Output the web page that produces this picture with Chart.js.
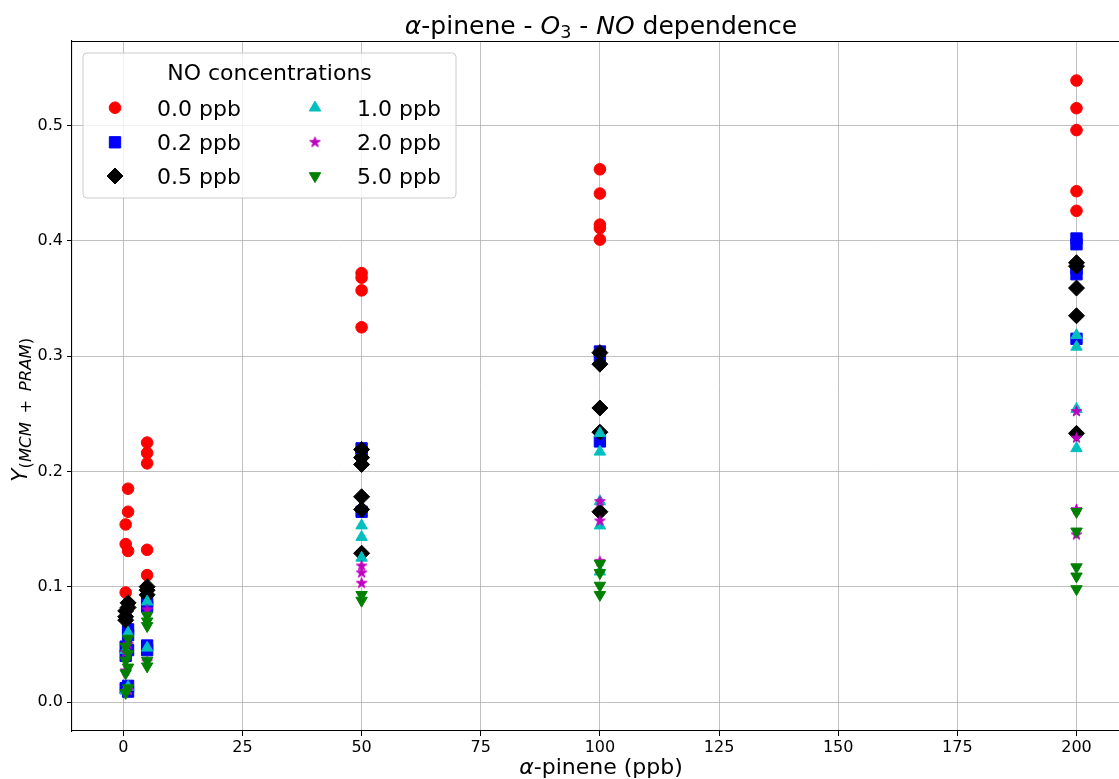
<!DOCTYPE html>
<html>
<head>
<meta charset="utf-8">
<script src="https://cdn.jsdelivr.net/npm/chart.js@4.4.1/dist/chart.umd.min.js"></script>
<style>
html,body{margin:0;padding:0;overflow:hidden;background:#fff;width:1119px;height:779px}
#wrap{position:relative;width:1150px;height:779px}
canvas{display:block}
</style>
</head>
<body>
<div id="wrap"><canvas id="c" width="1150" height="779"></canvas></div>
<script>
// ---- tick labels ----
const xTicks = [0, 25, 50, 75, 100, 125, 150, 175, 200];
const yTicks = [0.0, 0.1, 0.2, 0.3, 0.4, 0.5];

// ---- series (NO concentrations) ----
const seriesLabels = ['0.0 ppb', '0.2 ppb', '0.5 ppb', '1.0 ppb', '2.0 ppb', '5.0 ppb'];

// alpha-pinene (ppb) and yield values per NO level
const x_NO00 = [0.5,0.5,0.5, 1,1,1, 5,5,5,5,5, 50,50,50,50, 100,100,100,100,100, 200,200,200,200,200];
const y_NO00 = [0.154,0.137,0.095, 0.185,0.165,0.131, 0.225,0.216,0.207,0.132,0.110, 0.372,0.368,0.357,0.325, 0.462,0.441,0.414,0.411,0.401, 0.539,0.515,0.496,0.443,0.426];

const x_NO02 = [0.5,0.5,0.5, 1,1,1,1,1, 5,5,5,5, 50,50,50, 100,100,100, 200,200,200,200,200];
const y_NO02 = [0.048,0.040,0.012, 0.063,0.058,0.045,0.014,0.009, 0.088,0.083,0.049,0.045, 0.220,0.215,0.165, 0.304,0.300,0.226, 0.402,0.397,0.376,0.371,0.315];

const x_NO05 = [0.5,0.5,0.5, 1,1, 5,5,5, 50,50,50,50,50,50, 100,100,100,100,100, 200,200,200,200,200];
const y_NO05 = [0.079,0.074,0.071, 0.086,0.082, 0.100,0.097,0.093, 0.219,0.212,0.206,0.178,0.167,0.129, 0.303,0.293,0.255,0.234,0.165, 0.381,0.378,0.359,0.335,0.233];

const x_NO10 = [0.5,0.5, 1,1, 5,5, 50,50,50, 100,100,100,100,100, 200,200,200,200];
const y_NO10 = [0.045,0.010, 0.060,0.013, 0.087,0.047, 0.153,0.143,0.125, 0.233,0.217,0.174,0.153,0.113, 0.318,0.308,0.254,0.220];

const x_NO20 = [0.5,0.5, 1,1, 5,5, 50,50,50, 100,100,100, 200,200,200,200];
const y_NO20 = [0.043,0.027, 0.050,0.010, 0.080,0.035, 0.118,0.112,0.103, 0.174,0.157,0.122, 0.252,0.229,0.167,0.145];

const x_NO50 = [0.5,0.5,0.5,0.5, 1,1,1,1, 5,5,5,5,5, 50,50, 100,100,100,100, 200,200,200,200,200];
const y_NO50 = [0.048,0.036,0.025,0.008, 0.055,0.042,0.030,0.012, 0.075,0.070,0.066,0.036,0.031, 0.093,0.088, 0.120,0.112,0.101,0.093, 0.165,0.148,0.117,0.109,0.098];

const xSeries = [x_NO00, x_NO02, x_NO05, x_NO10, x_NO20, x_NO50];
const ySeries = [y_NO00, y_NO02, y_NO05, y_NO10, y_NO20, y_NO50];

// ---- axis framing (axis range is set so the frame matches the original figure) ----
const X_LEFT_PX = 72, X0_PX = 123.3, X200_PX = 1076.5, X_AXES_RIGHT_PX = 1130;
const Y_TOP_PX = 41, Y0_PX = 702, Y05_PX = 125.5;

// ---- styles ----
const FONT = "'DejaVu Sans', sans-serif";
function starCanvas(color, R) {
  const s = Math.ceil(2 * R + 3);
  const c = document.createElement('canvas');
  c.width = s; c.height = s;
  const g = c.getContext('2d');
  g.fillStyle = color; g.strokeStyle = color; g.lineWidth = 1; g.lineJoin = 'miter';
  g.beginPath();
  for (let i = 0; i < 10; i++) {
    const r = i % 2 ? R * 0.38 : R;
    const a = -Math.PI / 2 + i * Math.PI / 5;
    g.lineTo(s / 2 + r * Math.cos(a), s / 2 + r * Math.sin(a));
  }
  g.closePath(); g.fill(); g.stroke();
  return c;
}
const styles = [
  {color: '#ff0000', pointStyle: 'circle', radius: 5.8, rotation: 0},
  {color: '#0000ff', pointStyle: 'rect', radius: 8.0, rotation: 0},
  {color: '#000000', pointStyle: 'rectRot', radius: 8.0, rotation: 0},
  {color: '#00bfbf', pointStyle: 'triangle', radius: 6.6, rotation: 0},
  {color: '#bf00bf', pointStyle: starCanvas('#bf00bf', 5.6), radius: 6, rotation: 0},
  {color: '#008000', pointStyle: 'triangle', radius: 6.6, rotation: 180}
];

const datasets = seriesLabels.map((lab, k) => ({
  label: lab,
  data: xSeries[k].map((x, i) => ({x: x, y: ySeries[k][i]})),
  backgroundColor: styles[k].color,
  borderColor: styles[k].color,
  borderWidth: 1,
  pointStyle: styles[k].pointStyle,
  pointRadius: styles[k].radius,
  pointHoverRadius: styles[k].radius,
  rotation: styles[k].rotation,
  order: seriesLabels.length - k,
  showLine: false
}));

function drawRich(ctx, segs, x, y, align) {
  let total = 0;
  segs.forEach(s => {
    ctx.font = (s.it ? 'italic ' : '') + s.size + 'px ' + FONT;
    s.w = ctx.measureText(s.t).width;
    total += s.w;
  });
  let cx = align === 'center' ? x - total / 2 : x;
  ctx.textAlign = 'left';
  ctx.textBaseline = 'alphabetic';
  segs.forEach(s => {
    ctx.font = (s.it ? 'italic ' : '') + s.size + 'px ' + FONT;
    ctx.fillText(s.t, cx, y + (s.dy || 0));
    cx += s.w;
  });
  return total;
}

function drawMarker(ctx, st, x, y) {
  ctx.save();
  ctx.fillStyle = st.color; ctx.strokeStyle = st.color; ctx.lineWidth = 1;
  Chart.helpers.drawPoint(ctx, {pointStyle: st.pointStyle, radius: st.radius, rotation: st.rotation, borderWidth: 1}, x, y);
  ctx.restore();
}

const frameFit = {
  id: 'frameFit',
  afterLayout(chart) {
    const a = chart.chartArea;
    const xs = chart.scales.x, ys = chart.scales.y;
    const kx = (X200_PX - X0_PX) / 200;
    xs.min = (a.left - X0_PX) / kx;
    xs.max = (a.right - X0_PX) / kx;
    xs.configure();
    const ky = (Y0_PX - Y05_PX) / 0.5;
    ys.min = (Y0_PX - a.bottom) / ky;
    ys.max = (Y0_PX - a.top) / ky;
    ys.configure();
  }
};

const decor = {
  id: 'decor',
  afterDraw(chart) {
    const ctx = chart.ctx;
    const a = chart.chartArea;
    ctx.save();
    // top & right spines
    ctx.strokeStyle = '#000'; ctx.lineWidth = 1.1;
    ctx.beginPath();
    ctx.moveTo(a.left, a.top + 0.5); ctx.lineTo(a.right, a.top + 0.5);
    ctx.moveTo(a.right - 0.5, a.top); ctx.lineTo(a.right - 0.5, a.bottom);
    ctx.stroke();
    ctx.fillStyle = '#000';
    // title, centred on the (original) axes
    const cx = (a.left + X_AXES_RIGHT_PX) / 2;
    drawRich(ctx, [
      {t: 'α', it: true, size: 25},
      {t: '-pinene - ', size: 25},
      {t: 'O', it: true, size: 25},
      {t: '3', size: 17.5, dy: 4},
      {t: ' - ', size: 25},
      {t: 'NO', it: true, size: 25},
      {t: ' dependence', size: 25}
    ], cx, 33.5, 'center');
    // x label
    drawRich(ctx, [
      {t: 'α', it: true, size: 22},
      {t: '-pinene (ppb)', size: 22}
    ], cx, 774, 'center');
    // y label (rotated)
    ctx.save();
    ctx.translate(27, 482);
    ctx.rotate(-Math.PI / 2);
    drawRich(ctx, [
      {t: 'Y', it: true, size: 22},
      {t: '(', size: 16.5, dy: 4},
      {t: 'MCM', it: true, size: 16.5, dy: 4},
      {t: ' \u2009+\u2009 ', size: 16.5, dy: 4},
      {t: 'PRAM', it: true, size: 16.5, dy: 4},
      {t: ')', size: 16.5, dy: 4}
    ], 0, 0, 'left');
    ctx.restore();
    // legend
    const lx = 83, ly = 53, lw = 373, lh = 145, r = 4;
    ctx.beginPath();
    ctx.moveTo(lx + r, ly);
    ctx.arcTo(lx + lw, ly, lx + lw, ly + lh, r);
    ctx.arcTo(lx + lw, ly + lh, lx, ly + lh, r);
    ctx.arcTo(lx, ly + lh, lx, ly, r);
    ctx.arcTo(lx, ly, lx + lw, ly, r);
    ctx.closePath();
    ctx.fillStyle = 'rgba(255,255,255,0.8)';
    ctx.fill();
    ctx.strokeStyle = '#cccccc'; ctx.lineWidth = 1;
    ctx.stroke();
    ctx.fillStyle = '#000';
    ctx.font = '22px ' + FONT;
    ctx.textAlign = 'center'; ctx.textBaseline = 'alphabetic';
    ctx.fillText('NO concentrations', lx + lw / 2, 80);
    const rowY = [107.7, 142.3, 176];
    const colM = [115, 315], colT = [157, 357];
    seriesLabels.forEach((lab, k) => {
      const col = Math.floor(k / 3), row = k % 3;
      drawMarker(ctx, styles[k], colM[col], rowY[row]);
      ctx.fillStyle = '#000';
      ctx.font = '22px ' + FONT;
      ctx.textAlign = 'left';
      ctx.fillText(lab, colT[col], rowY[row] + 8);
    });
    ctx.restore();
  }
};

new Chart(document.getElementById('c'), {
  type: 'scatter',
  data: {datasets: datasets},
  options: {
    responsive: false,
    animation: false,
    devicePixelRatio: 1,
    layout: {padding: {top: Y_TOP_PX, left: 0, right: 0, bottom: 0}},
    plugins: {legend: {display: false}, tooltip: {enabled: false}, title: {display: false}},
    scales: {
      x: {
        type: 'linear', min: -10.8, max: 213,
        grid: {color: '#b0b0b0', lineWidth: 0.8, tickLength: 5, tickColor: '#000', tickWidth: 1},
        border: {color: '#000', width: 1.1},
        ticks: {color: '#000', font: {size: 16, family: FONT}, padding: 2, maxRotation: 0, autoSkip: false,
                callback: v => String(v)},
        afterBuildTicks: s => { s.ticks = xTicks.map(v => ({value: v})); },
        afterFit: s => { s.height = 48; }
      },
      y: {
        type: 'linear', min: -0.0252, max: 0.5748,
        grid: {color: '#b0b0b0', lineWidth: 0.8, tickLength: 5, tickColor: '#000', tickWidth: 1},
        border: {color: '#000', width: 1.1},
        ticks: {color: '#000', font: {size: 16, family: FONT}, padding: 4, autoSkip: false,
                callback: v => Number(v).toFixed(1)},
        afterBuildTicks: s => { s.ticks = yTicks.map(v => ({value: v})); },
        afterFit: s => { s.width = X_LEFT_PX; }
      }
    }
  },
  plugins: [frameFit, decor]
});
</script>
</body>
</html>
